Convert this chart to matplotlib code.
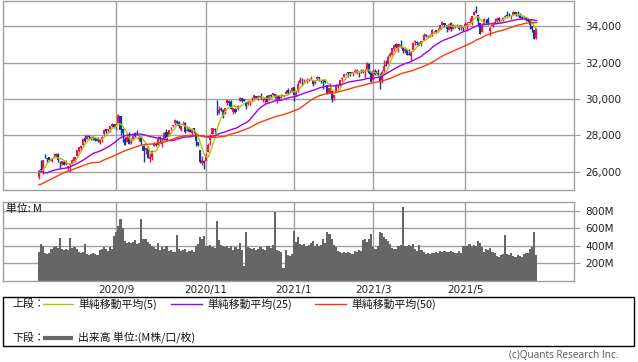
import numpy as np
import pandas as pd
import matplotlib
matplotlib.use('Agg')
import matplotlib.pyplot as plt
from matplotlib.lines import Line2D
from matplotlib.patches import Rectangle
from matplotlib.ticker import FuncFormatter, FixedLocator

# ---------------- data ----------------
start_date = '2020-07-10'
end_date = '2021-06-21'
market_holidays = ['2020-09-07', '2020-11-26', '2020-12-25', '2021-01-01',
                   '2021-01-18', '2021-02-15', '2021-04-02', '2021-05-31']

# closes before the chart window (used only for moving averages)
prior_closes = [24634, 24346, 23724, 23750, 23883, 23664, 23875, 24331, 24222, 23764,
                23248, 23625, 23685, 24597, 24207, 24576, 24474, 24465, 24995, 25548,
                25401, 25383, 25475, 25742, 26270, 26281, 27111, 27572, 27272, 26990,
                25128, 25606, 25763, 26290, 26120, 26080, 25871, 26025, 26156, 25446,
                25746, 25016, 25596, 25813, 25735, 25827, 26287, 25890, 26067, 25706]

opens = [
    25710, 26170, 25980, 26880, 26770, 26810, 26620, 26810, 26850, 26970, 26510, 26450, 26560, 26410, 26250, 26360,
    26450, 26620, 26880, 27170, 27330, 27470, 27860, 27800, 27990, 27840, 27920, 27880, 27780, 27610, 27740, 28060, 28340, 28290, 28360, 28530, 28610,
    28440, 28680, 29040, 28340, 27800, 27650, 28000, 27600, 27810, 28120, 28040, 27830, 27840, 27400, 27180, 27300, 26720, 26820, 27400, 27590, 27480,
    27900, 27540, 27780, 28170, 27970, 28390, 28500, 28690, 28800, 28740, 28290, 28560, 28700, 28270, 28340, 28150, 28400, 28190, 27650, 27230, 26510, 26620,
    26600, 27080, 27750, 28080, 28350, 29200, 29220, 29460, 29390, 29200, 29780, 29910, 29820, 29300, 29460, 29440, 29870, 30050, 29990, 29860,
    29700, 29760, 29950, 30030, 30170, 30000, 30180, 29970, 29930, 30140, 30000, 30230, 30230, 30280, 29900, 30200, 30060, 30160, 30280, 30490, 30370, 30420,
    30630, 30200, 30420, 30900, 31100, 30970, 31030, 31050, 31080, 31000, 30900, 31070, 31220, 31040, 31050, 31050, 30790, 30340, 30450,
    30050, 30360, 30770, 30740, 31110, 31210, 31370, 31460, 31480, 31420, 31500, 31450, 31500, 31530, 31460, 31460, 31560, 31900, 31490,
    31060, 31560, 31400, 31270, 31040, 31550, 31870, 31900, 32350, 32430, 32760, 32990, 32800, 32940, 32820, 32630, 32710, 32480, 32360, 32700, 33100, 33110, 33070,
    33050, 33220, 33530, 33440, 33530, 33500, 33730, 33760, 33720, 33820, 34080, 34150, 34060, 33780, 34150, 33850, 34020, 33980, 33980, 33930, 33930,
    33930, 34070, 34170, 34220, 34600, 34850, 34600, 34180, 33650, 34130, 34350, 34370, 33740, 33990, 34170, 34270, 34460, 34340, 34360, 34500,
    34630, 34610, 34530, 34620, 34750, 34680, 34620, 34500, 34500, 34460, 34430, 34310, 33990, 33790, 33330]

highs = [
    26090, 26630, 26660, 27000, 26790, 26820, 26740, 27030, 27040, 27040, 26600, 26600, 26630, 26660, 26350, 26430,
    26720, 26830, 27210, 27390, 27460, 27800, 28030, 28020, 28040, 27950, 27970, 27910, 27890, 27760, 27950, 28360, 28360, 28360, 28500, 28660, 28620,
    28660, 29200, 29040, 28390, 27900, 28030, 28190, 27880, 28090, 28200, 28290, 28020, 27960, 27450, 27320, 27400, 27030, 27190, 27650, 27600, 27960,
    27990, 27850, 28170, 28360, 28320, 28460, 28600, 28900, 28860, 28820, 28520, 28770, 28750, 28520, 28450, 28400, 28410, 28190, 27660, 27230, 26900, 26650,
    27030, 27600, 28080, 28420, 28400, 29930, 29600, 29550, 29440, 29500, 29960, 29950, 29960, 29510, 29530, 29650, 30120, 30060, 30010, 29860,
    29960, 29900, 30100, 30220, 30180, 30200, 30320, 30040, 30050, 30200, 30200, 30250, 30320, 30290, 30220, 30230, 30250, 30200, 30520, 30600, 30500, 30640,
    30680, 30500, 31000, 31190, 31140, 31100, 31170, 31130, 31240, 31050, 31030, 31270, 31230, 31060, 31050, 31080, 30790, 30850, 30450,
    30300, 30840, 30840, 31060, 31230, 31390, 31420, 31500, 31500, 31460, 31640, 31620, 31500, 31640, 31660, 31650, 32010, 31980, 31520,
    31640, 31650, 31630, 31430, 31600, 32150, 32150, 32390, 32560, 32800, 32960, 33050, 33020, 33230, 32850, 32780, 32760, 32760, 32650, 33100, 33260, 33180, 33120,
    33170, 33620, 33580, 33520, 33560, 33810, 33750, 33790, 33890, 34040, 34260, 34180, 34060, 34160, 34200, 34120, 34060, 34100, 34050, 34080, 33960,
    34220, 34200, 34430, 34550, 34810, 35090, 34600, 34180, 34160, 34420, 34390, 34470, 33950, 34200, 34440, 34470, 34500, 34390, 34520, 34630,
    34850, 34700, 34600, 34810, 34760, 34850, 34690, 34560, 34540, 34480, 34430, 34390, 34000, 33800, 33900]

lows = [
    25640, 26060, 25900, 26760, 26550, 26610, 26540, 26800, 26830, 26530, 26240, 26360, 26360, 26400, 26040, 25990,
    26440, 26560, 26870, 27110, 27200, 27450, 27620, 27780, 27830, 27760, 27760, 27690, 27620, 27530, 27660, 28050, 28110, 28180, 28200, 28450, 28400,
    28290, 28680, 28000, 27660, 27460, 27650, 27530, 27520, 27800, 27920, 28000, 27670, 27490, 26540, 26970, 26740, 26540, 26640, 27400, 27410, 27480,
    27610, 27380, 27770, 27730, 27970, 28300, 28440, 28600, 28600, 28420, 28240, 28560, 28130, 28270, 28200, 28000, 28140, 27420, 27400, 26510, 26370, 26140,
    26600, 27080, 27500, 28080, 28070, 29130, 29150, 29330, 28970, 29200, 29650, 29600, 29430, 29160, 29230, 29400, 29870, 29830, 29870, 29450,
    29690, 29650, 29900, 30000, 30000, 29950, 30020, 29860, 29700, 29860, 29970, 30080, 30200, 30060, 29780, 29970, 30060, 30120, 30280, 30300, 30350, 30380,
    29880, 30150, 30400, 30870, 30760, 30850, 30900, 30980, 31050, 30710, 30820, 31060, 31010, 30880, 30560, 30890, 30270, 30340, 29860,
    29930, 30360, 30620, 30730, 31000, 31180, 31300, 31190, 31240, 31250, 31440, 31350, 31230, 31410, 31410, 31130, 31510, 31370, 30920,
    31060, 31340, 31260, 30550, 30860, 31500, 31820, 31900, 32320, 32400, 32650, 32770, 32570, 32790, 32500, 32520, 32410, 32400, 32080, 32620, 32980, 32960, 32980,
    32930, 33220, 33400, 33340, 33380, 33470, 33600, 33630, 33680, 33810, 34060, 33950, 33660, 33760, 33750, 33840, 33900, 33930, 33770, 33780, 33740,
    33930, 33750, 34160, 34080, 34590, 34700, 34000, 33590, 33650, 34130, 34150, 34040, 33470, 33940, 34160, 34240, 34240, 34250, 34300, 34500,
    34540, 34540, 34390, 34610, 34550, 34550, 34440, 34380, 34420, 34250, 34240, 33860, 33680, 33270, 33300]

closes = [
    26075, 26085, 26643, 26870, 26735, 26672, 26681, 26840, 27005, 26652, 26470, 26584, 26379, 26540, 26314, 26428,
    26664, 26828, 27202, 27386, 27433, 27791, 27687, 27976, 27897, 27931, 27845, 27778, 27692, 27739, 27930, 28308, 28249, 28332, 28492, 28654, 28430,
    28646, 29100, 28292, 28133, 27501, 27940, 27535, 27666, 27993, 27995, 28032, 27902, 27657, 27148, 27288, 26763, 26815, 27174, 27584, 27452, 27782,
    27817, 27683, 28149, 27773, 28303, 28426, 28587, 28838, 28680, 28514, 28494, 28606, 28195, 28309, 28211, 28364, 28336, 27685, 27463, 26520, 26660, 26502,
    26925, 27481, 27848, 28390, 28323, 29158, 29421, 29398, 29080, 29480, 29950, 29784, 29438, 29483, 29263, 29591, 30046, 29872, 29910, 29639,
    29824, 29883, 29970, 30218, 30070, 30174, 30069, 29999, 30046, 29862, 30199, 30155, 30304, 30179, 30216, 30015, 30129, 30200, 30404, 30336, 30409, 30606,
    30224, 30392, 30829, 31041, 31098, 31009, 31068, 31061, 31113, 30814, 30930, 31188, 31176, 30997, 30960, 30937, 30303, 30603, 29983,
    30212, 30688, 30724, 31056, 31148, 31386, 31376, 31438, 31431, 31458, 31523, 31613, 31494, 31494, 31522, 31537, 31962, 31402, 30932,
    31535, 31391, 31270, 30924, 31496, 31803, 31833, 32298, 32485, 32779, 32953, 32826, 33015, 32863, 32628, 32732, 32423, 32420, 32619, 33072, 33171, 33066, 32982,
    33153, 33527, 33430, 33446, 33503, 33801, 33746, 33677, 33730, 34036, 34200, 34078, 33821, 34137, 33815, 34043, 33982, 33984, 33820, 34060, 33875,
    34113, 34133, 34230, 34548, 34778, 34743, 34270, 33587, 34021, 34382, 34327, 34061, 33896, 34084, 34208, 34394, 34313, 34323, 34465, 34529,
    34575, 34600, 34577, 34756, 34630, 34600, 34447, 34466, 34480, 34394, 34299, 34033, 33823, 33290, 33876]

volumes_m = [
    330, 420, 400, 310, 300, 320, 360, 380, 400, 370, 490, 360, 350, 360, 350, 485,
    370, 380, 360, 330, 320, 330, 420, 300, 290, 300, 310, 300, 290, 350, 360, 380, 360, 340, 380, 360, 515,
    560, 620, 700, 600, 450, 430, 440, 430, 440, 460, 420, 430, 700, 470, 470, 440, 420, 400, 380, 360, 430,
    350, 380, 360, 400, 340, 350, 330, 330, 520, 360, 340, 350, 360, 330, 340, 350, 330, 400, 420, 500, 480, 510,
    400, 390, 410, 380, 370, 680, 460, 410, 400, 380, 400, 370, 400, 350, 380, 360, 430, 350, 170, 560,
    380, 370, 360, 370, 350, 360, 380, 360, 350, 390, 400, 370, 410, 790, 350, 340, 330, 140, 355, 290, 280, 300,
    570, 440, 500, 420, 410, 420, 400, 410, 430, 450, 390, 420, 400, 410, 480, 430, 560, 530, 470,
    410, 380, 340, 330, 320, 330, 320, 330, 310, 300, 340, 330, 350, 340, 460, 470, 440, 470, 530,
    380, 360, 400, 550, 540, 500, 470, 450, 420, 370, 360, 360, 400, 410, 840, 400, 390, 410, 400, 420, 360, 340, 410,
    350, 330, 300, 310, 300, 310, 320, 330, 310, 340, 330, 340, 330, 330, 340, 330, 320, 310, 340, 320, 400,
    400, 390, 420, 400, 410, 400, 450, 430, 380, 330, 360, 350, 370, 330, 320, 280, 270, 290, 300, 520,
    300, 290, 310, 280, 270, 290, 280, 270, 300, 310, 320, 360, 380, 560, 290]

month_labels = ['2020/9', '2020/11', '2021/1', '2021/3', '2021/5']
price_ticks = [26000, 28000, 30000, 32000, 34000]
volume_ticks = [200, 400, 600, 800]
ma_windows = [5, 25, 50]
ma_names = ['単純移動平均(5)', '単純移動平均(25)', '単純移動平均(50)']

# ---------------- derived ----------------
dates = pd.bdate_range(start_date, end_date, freq='C', holidays=market_holidays)
n = len(closes)
assert len(dates) == n == len(opens) == len(highs) == len(lows) == len(volumes_m)
x = np.arange(n)
o = np.array(opens, float); c = np.array(closes, float)
h = np.array(highs, float); l = np.array(lows, float)
allc = pd.Series(prior_closes + closes, dtype=float)
mas = [allc.rolling(w).mean().values[-n:] for w in ma_windows]

label_pos = []
for lab in month_labels:
    yy, mm = lab.split('/')
    idx = np.where((dates.year == int(yy)) & (dates.month == int(mm)))[0][0]
    label_pos.append(idx)

# ---------------- figure ----------------
W, H = 638, 362
fig = plt.figure(figsize=(W / 100, H / 100), dpi=100)
fig.patch.set_facecolor('white')

def rect(lft, top, rgt, bot):
    return [lft / W, 1 - bot / H, (rgt - lft) / W, (bot - top) / H]

def fx(px):
    return px / W

def fy(py):
    return 1 - py / H

GRID = '#a0a0a0'
UP = '#f5104c'
DOWN = '#0c3a9e'
MA_COLORS = ['#a8c800', '#a000f0', '#ff3a00']
VOL = '#666666'
CJK = ['Noto Sans CJK JP', 'DejaVu Sans']

px0, pstep = 39, 2.09
xl = ((3 - px0) / pstep, (574 - px0) / pstep)

ax = fig.add_axes(rect(3, 0.5, 574, 190))
axv = fig.add_axes(rect(3, 201.5, 574, 280.5))

for a in (ax, axv):
    a.set_xlim(*xl)
    for s in a.spines.values():
        s.set_color(GRID)
        s.set_linewidth(1)
    a.set_axisbelow(True)
    a.grid(True, color=GRID, linewidth=1)
    a.xaxis.set_major_locator(FixedLocator(label_pos))
    a.yaxis.tick_right()
    a.tick_params(axis='y', length=4, color=GRID, labelsize=7.5, pad=4, labelcolor='#222222')
    a.tick_params(axis='x', length=0)

# price panel
ax.set_ylim(25010, 35400)
ax.set_yticks(price_ticks)
ax.yaxis.set_major_formatter(FuncFormatter(lambda v, p: f'{v:,.0f}'))
ax.set_xticklabels([])
up = c >= o
cols = np.where(up, UP, DOWN)
ax.vlines(x, l, h, colors=cols, linewidth=1.0, zorder=2)
body_lo = np.minimum(o, c)
body_h = np.maximum(np.abs(c - o), 20)
ax.bar(x, body_h, bottom=body_lo, width=1.0, color=cols, linewidth=0, zorder=2)
for m, col in zip(mas, MA_COLORS):
    ax.plot(x, m, color=col, linewidth=1.0, zorder=3)

# volume panel
axv.set_ylim(0, 905)
axv.set_yticks(volume_ticks)
axv.yaxis.set_major_formatter(FuncFormatter(lambda v, p: f'{v:.0f}M'))
axv.bar(x, volumes_m, width=1.0, color=VOL, linewidth=0, zorder=2)
axv.set_xticklabels(month_labels)
axv.tick_params(axis='x', labelsize=7.5, pad=3.5, labelcolor='#222222')
fig.text(fx(6), fy(209), '単位: M', family=CJK, fontsize=7.8, va='center', ha='left', color='#111111')

# legend box
fig.patches.append(Rectangle((fx(3), fy(345.5)), fx(634) - fx(3), fy(297) - fy(345.5),
                             transform=fig.transFigure, fill=False, edgecolor='black', linewidth=1))
row1, row2 = 304, 338
fig.text(fx(12), fy(row1), '上段：', family=CJK, fontsize=7.8, va='center', ha='left', color='#111111')
fig.text(fx(12), fy(row2), '下段：', family=CJK, fontsize=7.8, va='center', ha='left', color='#111111')
line_x = [(43, 73), (171, 202), (315, 346)]
text_x = [78, 207, 351]
for (a0, a1), tx, col, name in zip(line_x, text_x, MA_COLORS, ma_names):
    fig.lines.append(Line2D([fx(a0), fx(a1)], [fy(row1), fy(row1)], transform=fig.transFigure,
                            color=col, linewidth=1.0))
    fig.text(fx(tx), fy(row1), name, family=CJK, fontsize=7.8, va='center', ha='left', color='#111111')
fig.lines.append(Line2D([fx(43), fx(73)], [fy(row2), fy(row2)], transform=fig.transFigure,
                        color=VOL, linewidth=3.0, solid_capstyle='butt'))
fig.text(fx(78), fy(row2), '出来高 単位:(M株/口/枚)', family=CJK, fontsize=7.8, va='center', ha='left', color='#111111')

fig.text(fx(618), fy(356), '(c)Quants Research Inc.', family=['Open Sans', 'DejaVu Sans'], fontsize=7.2,
         va='center', ha='right', color='#555555')

fig.savefig('out.png', dpi=100, facecolor='white')
